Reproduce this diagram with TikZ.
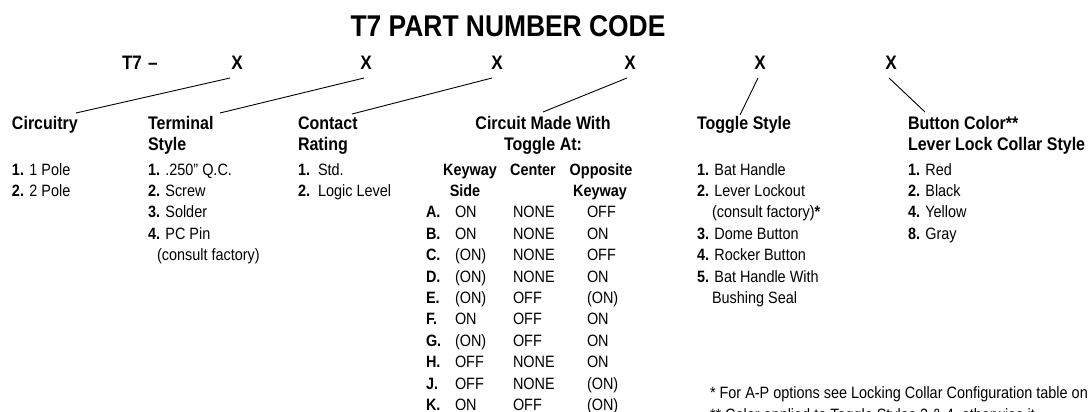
\documentclass[tikz,border=0pt]{standalone}
\usepackage{fontspec}
\setmainfont{Liberation Sans}[FakeStretch=0.88]
\usetikzlibrary{calc}
\tikzset{
  hd/.style={font=\fontsize{18.2}{21}\selectfont\bfseries, anchor=base west},
  hdc/.style={hd, anchor=base},
  it/.style={font=\fontsize{16.4}{20}\selectfont, anchor=base west},
  itc/.style={it, anchor=base},
  code/.style={font=\fontsize{19.5}{22}\selectfont\bfseries, anchor=base},
  lead/.style={line width=0.9pt, black},
  note/.style={font=\fontsize{16.4}{20}\selectfont, anchor=base west}
}
\begin{document}
\begin{tikzpicture}[x=1pt,y=-1pt, every node/.style={inner sep=0pt, outer sep=0pt}]
\useasboundingbox (0,0) rectangle (1088,412);
\clip (0,0) rectangle (1088,412);
\fill[white] (0,0) rectangle (1088,412);

% title
\node[font=\fontsize{30}{32}\selectfont\bfseries, anchor=base] (title) at (508,37) {T7 PART NUMBER CODE};

% code row
\node[code, anchor=base west] (t7) at (122,70) {T7\hspace{6pt}–};
\node[code] (x1) at (237,70) {X};
\node[code] (x2) at (366,70) {X};
\node[code] (x3) at (497,70) {X};
\node[code] (x4) at (630,70) {X};
\node[code] (x5) at (760,70) {X};
\node[code] (x6) at (891,70) {X};

% headings
\node[hd] (h1) at (12,129) {Circuitry};
\node[hd] (h2) at (148,129) {Terminal};
\node[hd] (h2b) at (148,150) {Style};
\node[hd] (h3) at (298,129) {Contact};
\node[hd] (h3b) at (298,150) {Rating};
\node[hdc] (h4) at (543,129) {Circuit Made With};
\node[hdc] (h4b) at (543,150) {Toggle At:};
\node[hd] (h5) at (697,129) {Toggle Style};
\node[hd] (h6) at (908,129) {Button Color**};
\node[hd] (h6b) at (908,150) {Lever Lock Collar Style};

% leader lines
\draw[lead] ($(x1.base)+(-7,8)$) -- ($(h1.base west)+(64,-16)$);
\draw[lead] ($(x2.base)+(-2,8)$) -- ($(h2.base west)+(72,-16)$);
\draw[lead] ($(x3.base)+(-5,8)$) -- ($(h3.base west)+(54,-15)$);
\draw[lead] ($(x4.base)+(-3,8)$) -- ($(h4.base)+(0,-17)$);
\draw[lead] ($(x5.base)+(-2,8)$) -- ($(h5.base west)+(43,-14)$);
\draw[lead] ($(x6.base)+(-2,8)$) -- ($(h6.base west)+(17,-17)$);

% Circuitry items
\node[it] (c1) at (12,175) {\textbf{1.} 1 Pole};
\node[it] (c2) at (12,196.4) {\textbf{2.} 2 Pole};

% Terminal style items
\node[it] (s1) at (148,175) {\textbf{1.} .250" Q.C.};
\node[it] (s2) at (148,196.4) {\textbf{2.} Screw};
\node[it] (s3) at (148,217.8) {\textbf{3.} Solder};
\node[it] (s4) at (148,239.2) {\textbf{4.} PC Pin};
\node[it] (s5) at (157,260.6) {(consult factory)};

% Contact rating items
\node[it] (r1) at (298,175) {\textbf{1.}\ \ Std.};
\node[it] (r2) at (298,196.4) {\textbf{2.}\ \ Logic Level};

% Circuit table header
\node[itc, font=\fontsize{16.4}{20}\selectfont\bfseries] (k1) at (470,175) {Keyway};
\node[itc, font=\fontsize{16.4}{20}\selectfont\bfseries] (k2) at (465,196.4) {Side};
\node[itc, font=\fontsize{16.4}{20}\selectfont\bfseries] (k3) at (533,175) {Center};
\node[itc, font=\fontsize{16.4}{20}\selectfont\bfseries] (k4) at (601,175) {Opposite};
\node[itc, font=\fontsize{16.4}{20}\selectfont\bfseries] (k5) at (600,196.4) {Keyway};

% Circuit table rows
\foreach \L/\a/\b/\c [count=\i from 0] in {A/ON/NONE/OFF, B/ON/NONE/ON, C/{(ON)}/NONE/OFF, D/{(ON)}/NONE/ON, E/{(ON)}/OFF/{(ON)}, F/ON/OFF/ON, G/{(ON)}/OFF/ON, H/OFF/NONE/ON, J/OFF/NONE/{(ON)}, K/ON/OFF/{(ON)}} {
  \pgfmathsetmacro\yy{217.8+21.4*\i}
  \node[it] (row\L) at (426,\yy) {\textbf{\L.}};
  \node[it] (row\L-1) at (455,\yy) {\a};
  \node[it] (row\L-2) at (513,\yy) {\b};
  \node[it] (row\L-3) at (587,\yy) {\c};
}

% Toggle style items
\node[it] (g1) at (697,175) {\textbf{1.} Bat Handle};
\node[it] (g2) at (697,196.4) {\textbf{2.} Lever Lockout};
\node[it] (g2b) at (712,217.8) {(consult factory)\textbf{*}};
\node[it] (g3) at (697,239.2) {\textbf{3.} Dome Button};
\node[it] (g4) at (697,260.6) {\textbf{4.} Rocker Button};
\node[it] (g5) at (697,282) {\textbf{5.} Bat Handle With};
\node[it] (g5b) at (712,303.4) {Bushing Seal};

% Button colour items
\node[it] (b1) at (908,175) {\textbf{1.} Red};
\node[it] (b2) at (908,196.4) {\textbf{2.} Black};
\node[it] (b4) at (908,217.8) {\textbf{4.} Yellow};
\node[it] (b8) at (908,239.2) {\textbf{8.} Gray};

% footnotes
\node[note] (n1) at (710,398) {* For A-P options see Locking Collar Configuration table on};
\node[note] (n2) at (710,420) {** Color applied to Toggle Styles 3 \& 4, otherwise it};
\end{tikzpicture}
\end{document}
